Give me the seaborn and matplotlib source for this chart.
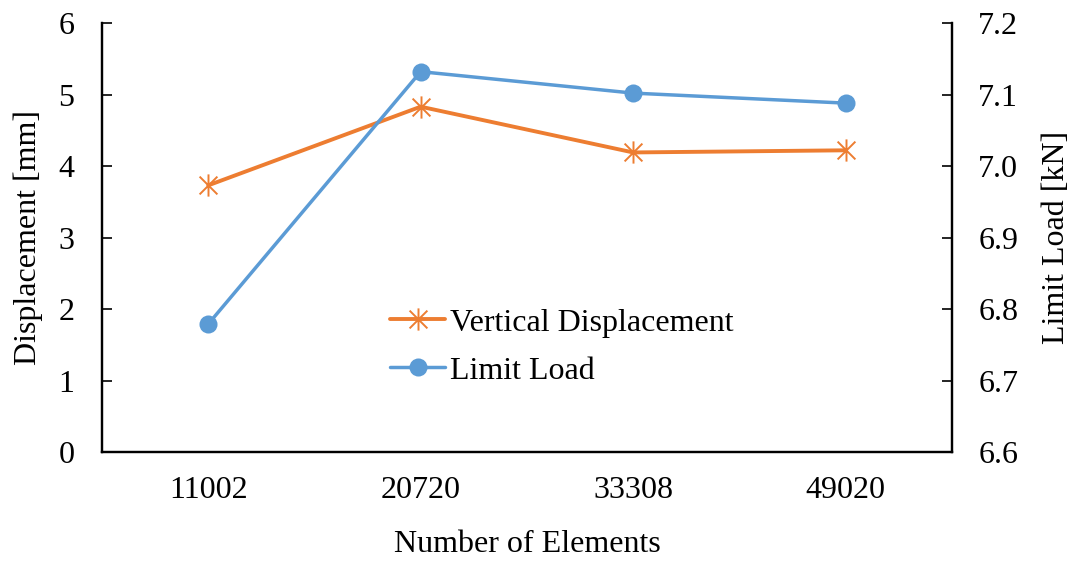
import matplotlib
matplotlib.use("Agg")
import matplotlib.pyplot as plt
import seaborn as sns
import pandas as pd
from matplotlib.path import Path

categories = ["11002", "20720", "33308", "49020"]
displacement = [3.73, 4.83, 4.19, 4.22]
limit_load = [6.779, 7.132, 7.102, 7.088]
left_ticks = [0, 1, 2, 3, 4, 5, 6]
right_ticks = [6.6, 6.7, 6.8, 6.9, 7.0, 7.1, 7.2]

sns.set_theme(style="white")
plt.rcParams["font.family"] = ["Liberation Serif", "DejaVu Serif"]
plt.rcParams["mathtext.fontset"] = "stix"
plt.rcParams["text.color"] = "black"

orange = "#ED7D31"
blue = "#5B9BD5"
FS = 23

star = Path([(0, -1), (0, 1), (-0.8, -0.8), (0.8, 0.8), (-0.8, 0.8), (0.8, -0.8)],
            [Path.MOVETO, Path.LINETO, Path.MOVETO, Path.LINETO, Path.MOVETO, Path.LINETO])

df = pd.DataFrame({"elements": categories, "disp": displacement, "load": limit_load})

fig = plt.figure(figsize=(10.73, 5.62), dpi=100)
ax = fig.add_axes([0.0951, 0.1957, 0.7919, 0.7633])
ax2 = ax.twinx()

sns.lineplot(data=df, x="elements", y="disp", ax=ax, color=orange, linewidth=2.8,
             marker=star, markersize=16, markeredgewidth=1.4, markeredgecolor=orange,
             markerfacecolor="none", label="Vertical Displacement", legend=False, sort=False)
sns.lineplot(data=df, x="elements", y="load", ax=ax2, color=blue, linewidth=2.5,
             marker="o", markersize=13, markeredgewidth=0, markerfacecolor=blue,
             label="Limit Load", legend=False, sort=False)

ax.set_xlim(-0.5, 3.5)
ax.set_ylim(0, 6)
ax2.set_ylim(6.6, 7.2)
ax.set_yticks(left_ticks)
ax.set_yticklabels([str(t) for t in left_ticks])
ax2.set_yticks(right_ticks)
ax2.set_yticklabels([f"{t:.1f}" for t in right_ticks])

for a in (ax, ax2):
    a.grid(False)
    for s in a.spines.values():
        s.set_linewidth(1.6)
        s.set_color("black")
    a.spines["top"].set_visible(False)

ax.tick_params(axis="y", direction="in", length=7, width=1.2, pad=20, labelsize=FS, colors="black", left=True)
ax2.tick_params(axis="y", direction="in", length=7, width=1.2, pad=19, labelsize=FS, colors="black", right=True)
ax.tick_params(axis="x", length=0, pad=17, labelsize=FS, colors="black")

ax.set_xlabel("Number of Elements", fontsize=FS, labelpad=18, color="black")
ax.set_ylabel("Displacement [mm]", fontsize=FS, labelpad=11, color="black")
ax2.set_ylabel("Limit Load [kN]", fontsize=FS, labelpad=17, color="black")

h1, l1 = ax.get_legend_handles_labels()
h2, l2 = ax2.get_legend_handles_labels()
leg = ax2.legend(h1 + h2, l1 + l2, loc="center", bbox_to_anchor=(0.541, 0.245),
                 frameon=False, fontsize=FS, handlelength=1.75, labelspacing=0.58,
                 handletextpad=0.15, labelcolor="black")

fig.savefig("out.png", dpi=100)
